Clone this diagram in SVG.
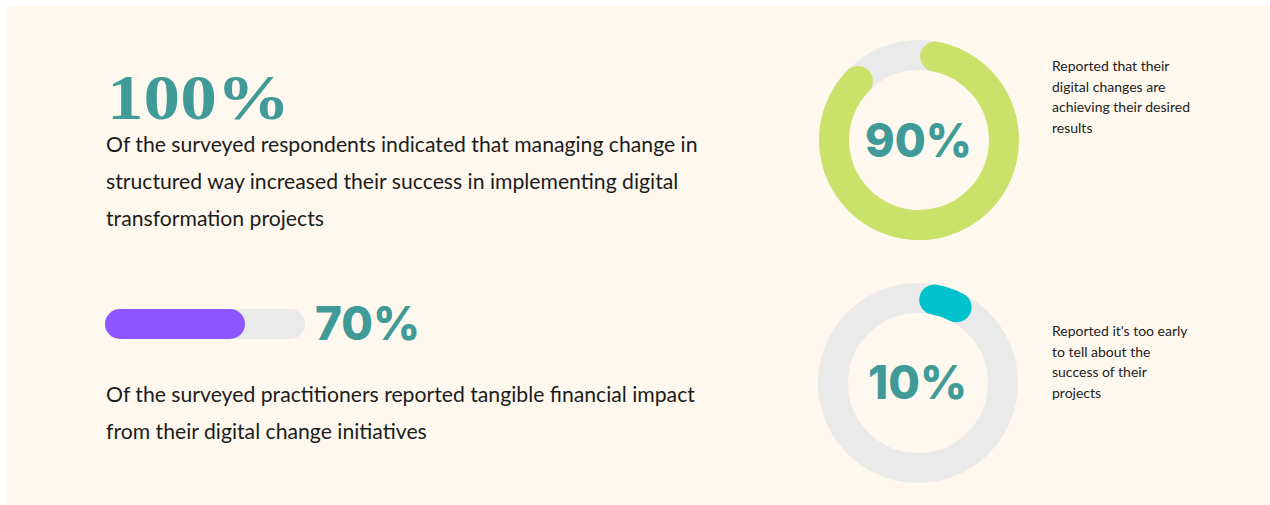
<svg xmlns="http://www.w3.org/2000/svg" width="1270" height="505" viewBox="0 0 1270 505">
  <style>
    .body { font-family: Lato, "Liberation Sans", sans-serif; font-size: 21.2px; fill: #1c1c1c; }
    .note { font-family: Lato, "Liberation Sans", sans-serif; font-size: 14px; fill: #222222; }
    .big { font-family: Inter, "Open Sans", "Liberation Sans", sans-serif; font-weight: 800; fill: #3F9A98; }
    .track { fill: none; stroke: #EAEAEA; stroke-width: 30; }
  </style>
  <rect x="0" y="0" width="1270" height="505" fill="#ffffff"/>
  <rect x="6" y="6" width="1264" height="499" fill="#FEF8EE"/>

  <g id="stat-100">
    <text x="107" y="119" font-family="'Liberation Serif', 'DejaVu Serif', serif" font-weight="bold" font-size="64" fill="#3F9A98" textLength="183" lengthAdjust="spacingAndGlyphs">100%</text>
    <text class="body" x="106" y="152">Of the surveyed respondents indicated that managing change in</text>
    <text class="body" x="106" y="189">structured way increased their success in implementing digital</text>
    <text class="body" x="106" y="226">transformation projects</text>
  </g>

  <g id="stat-70">
    <rect x="105" y="309" width="200" height="30" rx="15" fill="#EAEAEA"/>
    <rect x="105" y="309" width="140" height="30" rx="15" fill="#8E56FF"/>
    <text class="big" x="315" y="340" font-size="46" textLength="105" lengthAdjust="spacingAndGlyphs">70%</text>
    <text class="body" x="106" y="402">Of the surveyed practitioners reported tangible financial impact</text>
    <text class="body" x="106" y="439">from their digital change initiatives</text>
  </g>

  <g id="donut-90">
    <circle class="track" cx="919" cy="140" r="85"/>
    <path d="M935.2 56.6 A85 85 0 1 1 857.9 81.0" fill="none" stroke="#CBE26A" stroke-width="30" stroke-linecap="round"/>
    <text class="big" x="865" y="157" font-size="47" textLength="107" lengthAdjust="spacingAndGlyphs">90%</text>
  </g>
  <g id="note-90">
    <text class="note" x="1052" y="71">Reported that their</text>
    <text class="note" x="1052" y="91.5">digital changes are</text>
    <text class="note" x="1052" y="112">achieving their desired</text>
    <text class="note" x="1052" y="132.5">results</text>
  </g>

  <g id="donut-10">
    <circle class="track" cx="918" cy="383" r="85"/>
    <path d="M934.2 299.6 A85 85 0 0 1 956.6 307.3" fill="none" stroke="#00C2CC" stroke-width="30" stroke-linecap="round"/>
    <text class="big" x="868" y="399" font-size="46" textLength="99" lengthAdjust="spacingAndGlyphs">10%</text>
  </g>
  <g id="note-10">
    <text class="note" x="1052" y="336">Reported it's too early</text>
    <text class="note" x="1052" y="356.5">to tell about the</text>
    <text class="note" x="1052" y="377">success of their</text>
    <text class="note" x="1052" y="397.5">projects</text>
  </g>
</svg>
